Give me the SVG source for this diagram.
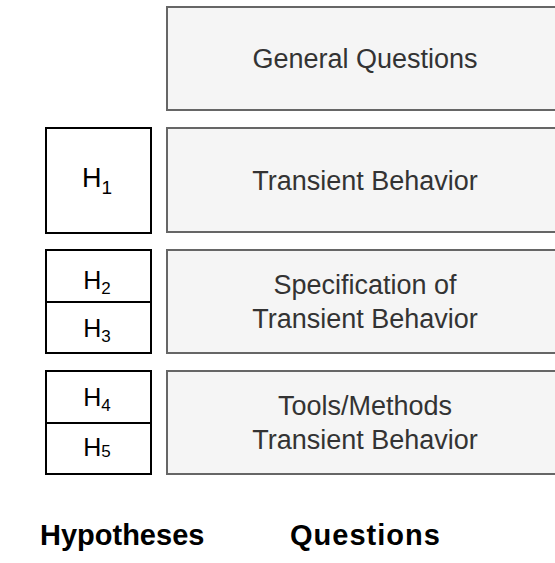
<svg xmlns="http://www.w3.org/2000/svg" width="555" height="563" viewBox="0 0 555 563">
  <style>
    .q { fill: #f5f5f5; stroke: #666666; stroke-width: 2; }
    .h { fill: #ffffff; stroke: #000000; stroke-width: 2; }
    .qt { font-family: "Liberation Sans", Arial, sans-serif; font-size: 27px; fill: #333333; text-anchor: middle; }
    .ht { font-family: "Liberation Sans", Arial, sans-serif; fill: #000000; text-anchor: middle; }
    .lbl { font-family: "Liberation Sans", Arial, sans-serif; font-size: 29px; font-weight: bold; fill: #000000; }
  </style>
  <rect width="555" height="563" fill="#ffffff"/>

  <!-- question boxes -->
  <g id="q-general">
    <rect class="q" x="167" y="7" width="396" height="103"/>
    <text class="qt" x="365" y="68">General Questions</text>
  </g>
  <g id="q-transient">
    <rect class="q" x="167" y="128" width="396" height="104"/>
    <text class="qt" x="365" y="190">Transient Behavior</text>
  </g>
  <g id="q-specification">
    <rect class="q" x="167" y="250" width="396" height="103"/>
    <text class="qt" x="365" y="294">Specification of</text>
    <text class="qt" x="365" y="328">Transient Behavior</text>
  </g>
  <g id="q-tools">
    <rect class="q" x="167" y="371" width="396" height="103"/>
    <text class="qt" x="365" y="415">Tools/Methods</text>
    <text class="qt" x="365" y="449">Transient Behavior</text>
  </g>

  <!-- hypothesis boxes -->
  <g id="h1">
    <rect class="h" x="46" y="128" width="105" height="105"/>
    <text class="ht" x="97" y="187" font-size="27">H<tspan font-size="19" dy="7">1</tspan></text>
  </g>
  <g id="h2">
    <rect class="h" x="46" y="250" width="105" height="52"/>
    <text class="ht" x="97" y="289" font-size="25">H<tspan font-size="17" dy="5">2</tspan></text>
  </g>
  <g id="h3">
    <rect class="h" x="46" y="302" width="105" height="51"/>
    <text class="ht" x="97" y="337" font-size="25">H<tspan font-size="17" dy="5">3</tspan></text>
  </g>
  <g id="h4">
    <rect class="h" x="46" y="371" width="105" height="52"/>
    <text class="ht" x="97" y="406" font-size="25">H<tspan font-size="17" dy="5">4</tspan></text>
  </g>
  <g id="h5">
    <rect class="h" x="46" y="423" width="105" height="51"/>
    <text class="ht" x="97" y="456" font-size="25">H<tspan font-size="17" dy="1">5</tspan></text>
  </g>

  <!-- column labels -->
  <g id="labels">
    <text class="lbl" x="40" y="545">Hypotheses</text>
    <text class="lbl" x="290" y="545" letter-spacing="1">Questions</text>
  </g>

  <g id="connectors"/>
</svg>
